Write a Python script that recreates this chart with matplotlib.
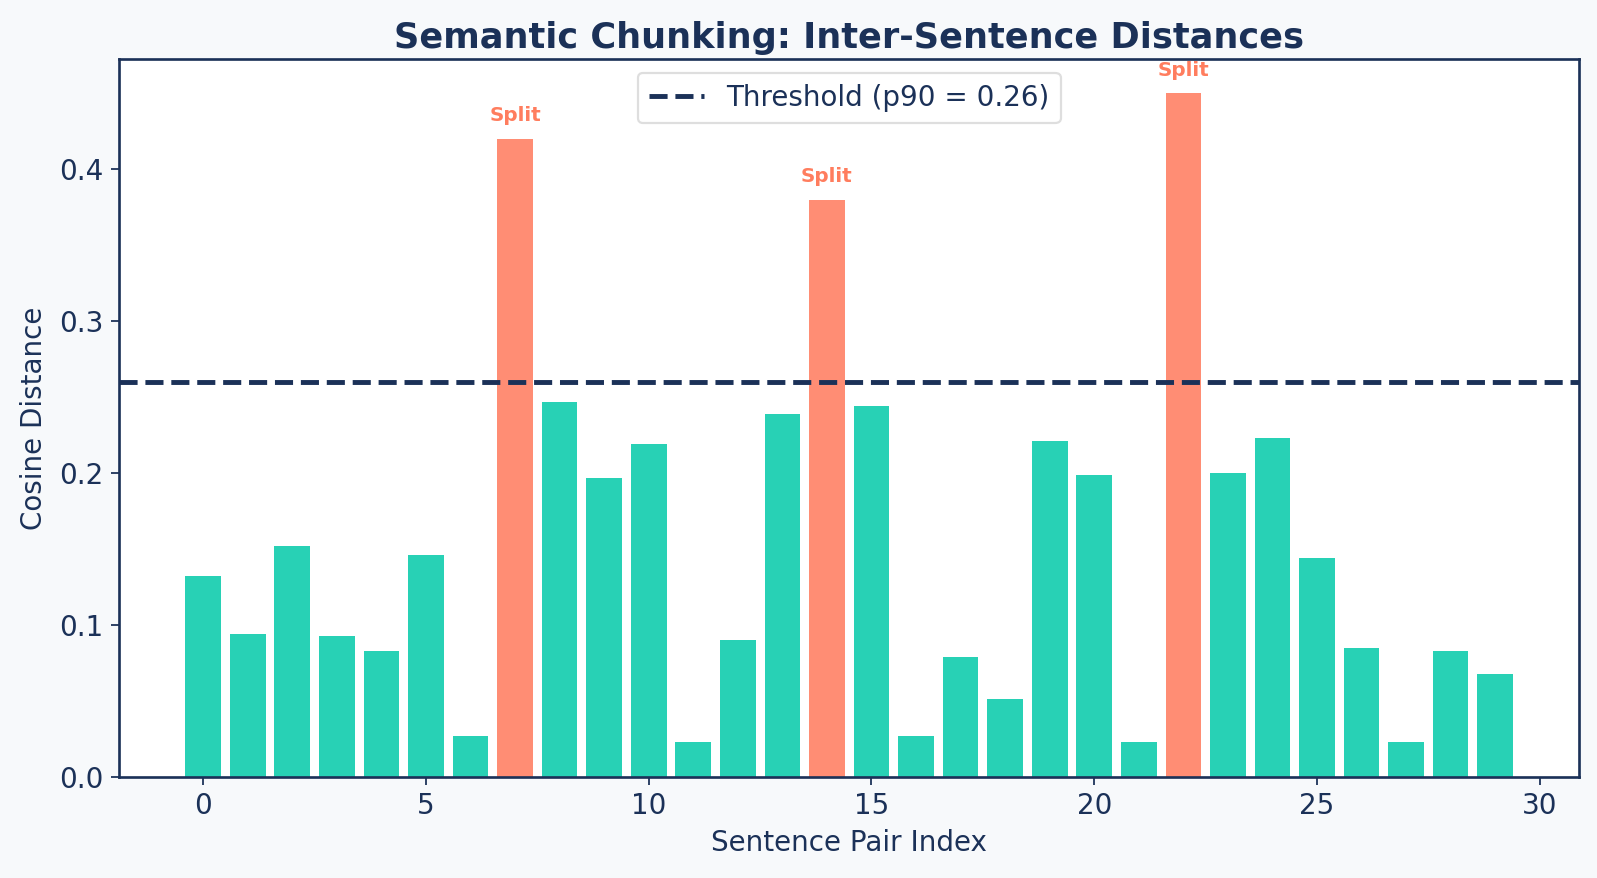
import matplotlib.pyplot as plt
import numpy as np

# sentence-pair cosine distances
distances = [0.132, 0.094, 0.152, 0.093, 0.083, 0.146, 0.027, 0.420,
             0.247, 0.197, 0.219, 0.023, 0.090, 0.239, 0.380, 0.244,
             0.027, 0.079, 0.051, 0.221, 0.199, 0.023, 0.450, 0.200,
             0.223, 0.144, 0.085, 0.023, 0.083, 0.068]
threshold = 0.26

navy = "#1b3158"
teal = "#28d1b5"
coral = "#ff8d74"
coral_text = "#ff7d5e"

idx = np.arange(len(distances))
colors = [coral if d > threshold else teal for d in distances]

fig = plt.figure(figsize=(1597 / 160, 878 / 160), dpi=160, facecolor="#f7f9fb")
ax = fig.add_axes([0.0745, 0.1151, 0.9145, 0.8177])
ax.set_facecolor("white")

ax.bar(idx, distances, color=colors, width=0.8)
ax.axhline(threshold, color=navy, linestyle="--", linewidth=2.2,
           label=f"Threshold (p90 = {threshold:.2f})")

for i, d in zip(idx, distances):
    if d > threshold:
        ax.text(i, d + 0.009, "Split", ha="center", va="bottom",
                fontsize=9, fontweight="bold", color=coral_text)

ax.set_title("Semantic Chunking: Inter-Sentence Distances", fontsize=15.8,
             fontweight="bold", color=navy, pad=5)
ax.set_xlabel("Sentence Pair Index", fontsize=12.5, color=navy)
ax.set_ylabel("Cosine Distance", fontsize=12.5, color=navy, labelpad=5)
ax.tick_params(colors=navy, labelsize=12.5)
for s in ax.spines.values():
    s.set_color(navy)
    s.set_linewidth(1.2)

leg = ax.legend(loc="upper center", fontsize=12.5, frameon=True)
leg.get_frame().set_edgecolor("#d6d6d6")
for t in leg.get_texts():
    t.set_color(navy)

fig.savefig("out.png", dpi=160, facecolor=fig.get_facecolor())
